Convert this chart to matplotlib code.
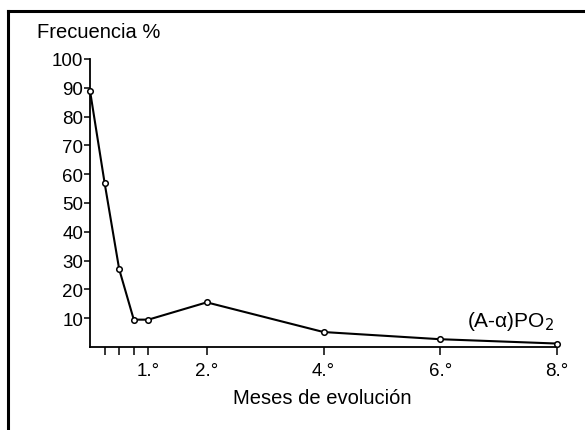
import matplotlib

matplotlib.use("Agg")
import matplotlib.pyplot as plt
from matplotlib.lines import Line2D

plt.rcParams["font.family"] = ["Liberation Sans", "DejaVu Sans"]

# months of evolution (weeks in the first month) and frequency %
months = [0.0, 0.25, 0.5, 0.75, 1.0, 2.0, 4.0, 6.0, 8.0]
frequency = [89, 57, 27, 9.5, 9.5, 15.5, 5.2, 2.7, 1.2]

major_ticks = [1, 2, 4, 6, 8]
major_labels = ["1.°", "2.°", "4.°", "6.°", "8.°"]
minor_ticks = [0.25, 0.5, 0.75]
y_ticks = list(range(10, 101, 10))

W, H = 585, 431
figure = plt.figure(figsize=(W / 100, H / 100), dpi=100)
axes = figure.add_axes([90 / W, 83 / H, (557 - 90) / W, (348 - 60) / H])

axes.plot(
    months,
    frequency,
    color="black",
    linewidth=1.5,
    marker="o",
    markersize=4,
    markerfacecolor="white",
    markeredgewidth=1.1,
    clip_on=False,
    zorder=3,
)

axes.set_xlim(0, 8)
axes.set_ylim(0, 100)
axes.set_xticks(major_ticks)
axes.set_xticklabels(major_labels)
axes.set_xticks(minor_ticks, minor=True)
axes.set_yticks(y_ticks)
axes.set_yticklabels([str(v) for v in y_ticks])

for side in ("top", "right"):
    axes.spines[side].set_visible(False)
for side in ("left", "bottom"):
    axes.spines[side].set_linewidth(1.3)

axes.tick_params(axis="both", which="both", direction="out", width=1.1,
                 labelsize=13.5, colors="black")
axes.tick_params(axis="x", which="major", length=6, pad=5)
axes.tick_params(axis="x", which="minor", length=6)
axes.tick_params(axis="y", length=4, pad=1)

figure.text(37 / W, 1 - 32 / H, "Frecuencia %", fontsize=14.5,
            ha="left", va="center")
figure.text(322 / W, 1 - 399 / H, "Meses de evolución", fontsize=14.5,
            ha="center", va="center")
figure.text(467 / W, 1 - 322 / H, "(A-α)PO$_2$", fontsize=15,
            ha="left", va="center")

# frame around the plate (left and top edges only)
figure.add_artist(Line2D([8 / W, 8 / W], [0, 1 - 12 / H], color="black",
                         linewidth=2.2, transform=figure.transFigure))
figure.add_artist(Line2D([8 / W, 1], [1 - 12 / H, 1 - 12 / H], color="black",
                         linewidth=2.2, transform=figure.transFigure))

figure.savefig("out.png", dpi=100)
